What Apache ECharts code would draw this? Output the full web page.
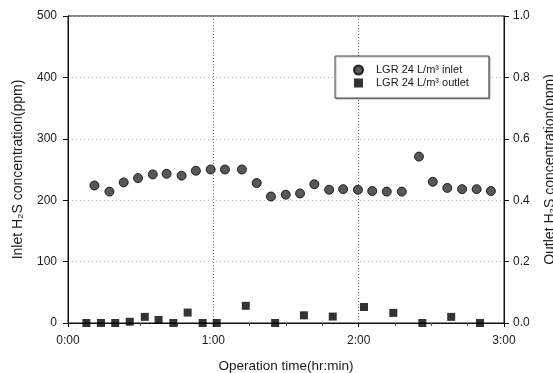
<!DOCTYPE html>
<html>
<head>
<meta charset="utf-8">
<script src="https://cdn.jsdelivr.net/npm/echarts@6/dist/echarts.min.js"></script>
<style>
  html, body { margin: 0; padding: 0; background: #fff; }
  #chartDom { width: 553px; height: 373px; }
</style>
</head>
<body>
<div id="chartDom"></div>
<script>
// operation time in minutes
const inletTime = [10.9, 17.1, 23.0, 28.9, 35.0, 40.7, 46.9, 52.8, 58.9, 64.8, 71.8, 77.9, 83.8, 89.9,
  95.8, 101.7, 107.8, 113.6, 119.7, 125.6, 131.6, 137.8, 144.9, 150.6, 156.6, 162.7, 168.7, 174.6];
const inletPpm = [224, 214, 229, 236, 242, 243, 240, 248, 250, 250, 250, 228, 206, 209,
  211, 226, 217, 218, 217, 215, 214, 214, 271, 230, 220, 218, 218, 215];

const outletTime = [7.6, 13.6, 19.5, 25.5, 31.7, 37.4, 43.5, 49.4, 55.6, 61.4, 73.4, 85.5,
  97.4, 109.3, 122.2, 134.3, 146.3, 158.2, 170.1];
const outletPpm = [0, 0, 0, 0.004, 0.020, 0.010, 0, 0.034, 0, 0, 0.056, 0,
  0.025, 0.021, 0.052, 0.033, 0, 0.020, 0];

const xTickLabels = ['0:00', '1:00', '2:00', '3:00'];
const seriesNames = ['LGR 24 L/m³ inlet', 'LGR 24 L/m³ outlet'];

const font = 'Liberation Sans, Arial, sans-serif';
const ink = '#1a1a1a';

const chartIns = echarts.init(document.getElementById('chartDom'));

const chartOption = {
  animation: false,
  textStyle: { fontFamily: font, color: ink },
  grid: {
    left: 68, right: 49, top: 16, bottom: 50,
    outerBoundsMode: 'none',
    containLabel: false,
    show: true, borderColor: '#111', borderWidth: 1
  },
  legend: {
    orient: 'vertical',
    left: 335, top: 56,
    padding: [8, 20, 9, 18],
    itemWidth: 9, itemHeight: 9, itemGap: 1,
    backgroundColor: '#fff',
    borderColor: '#444', borderWidth: 1,
    shadowColor: 'rgba(0,0,0,0.3)', shadowOffsetX: 1, shadowOffsetY: 1, shadowBlur: 1,
    textStyle: { fontFamily: font, fontSize: 11, color: ink, lineHeight: 12, padding: [0, 0, 0, 8] },
    data: seriesNames
  },
  xAxis: {
    type: 'value',
    min: 0, max: 180, interval: 60,
    name: 'Operation time(hr:min)',
    nameLocation: 'middle', nameGap: 36,
    nameTextStyle: { fontFamily: font, fontSize: 13.5, color: ink },
    axisLine: { lineStyle: { color: '#111' } },
    axisTick: { length: 4, lineStyle: { color: '#111' } },
    minorTick: { show: true, splitNumber: 4, length: 3, lineStyle: { color: '#555' } },
    axisLabel: {
      margin: 12, fontSize: 12, color: ink, fontFamily: font,
      formatter: (v) => xTickLabels[Math.round(v / 60)]
    },
    splitLine: { show: true, lineStyle: { color: '#777', type: [1, 2] } }
  },
  yAxis: [
    {
      type: 'value',
      min: 0, max: 500, interval: 100,
      name: 'Inlet H₂S concentration(ppm)',
      nameLocation: 'middle', nameGap: 43,
      nameTextStyle: { fontFamily: font, fontSize: 14, color: ink },
      axisLine: { show: true, lineStyle: { color: '#111' } },
      axisTick: { show: true, length: 5, lineStyle: { color: '#111' } },
      axisLabel: { margin: 11, fontSize: 12, color: ink, fontFamily: font },
      splitLine: { show: true, lineStyle: { color: '#b5b5b5', type: [1, 3] } }
    },
    {
      type: 'value',
      min: 0, max: 1, interval: 0.2,
      name: 'Outlet H₂S concentration(ppm)',
      nameLocation: 'middle', nameGap: 39,
      nameTextStyle: { fontFamily: font, fontSize: 14, color: ink },
      axisLine: { show: true, lineStyle: { color: '#111' } },
      axisTick: { show: true, length: 5, lineStyle: { color: '#111' } },
      axisLabel: {
        margin: 9, fontSize: 12, color: ink, fontFamily: font,
        formatter: (v) => v.toFixed(1)
      },
      splitLine: { show: false }
    }
  ],
  series: [
    {
      name: seriesNames[0],
      type: 'scatter',
      yAxisIndex: 0,
      symbol: 'circle',
      symbolSize: 9,
      itemStyle: { color: '#2e2e2e', borderColor: '#000', borderWidth: 1 },
      data: inletTime.map((t, i) => [t, inletPpm[i]])
    },
    {
      name: seriesNames[1],
      type: 'scatter',
      yAxisIndex: 1,
      symbol: 'rect',
      symbolSize: 8,
      itemStyle: { color: '#000' },
      data: outletTime.map((t, i) => [t, outletPpm[i]])
    }
  ]
};

chartIns.setOption(chartOption, true);
</script>
</body>
</html>
